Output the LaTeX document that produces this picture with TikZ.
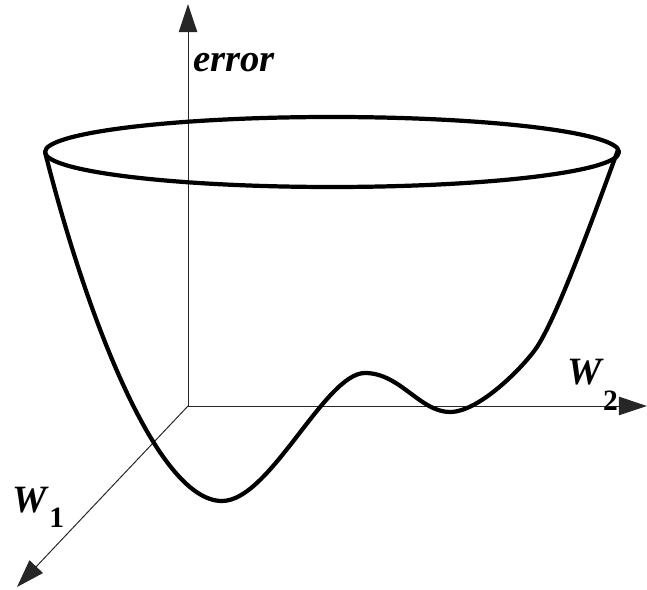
\documentclass[tikz,border=0pt]{standalone}
\usepackage{fontspec}
\setmainfont{Liberation Serif}
\usetikzlibrary{arrows.meta}

\begin{document}
\begin{tikzpicture}[
  x=0.025cm,y=-0.025cm,
  axis/.style={black!85,line width=0.7pt,-{Triangle[length=7mm,width=4.6mm]}},
  bowl/.style={line width=3pt,line join=round},
  lab/.style={font=\fontsize{27.5}{32}\selectfont\bfseries\itshape,inner sep=0pt},
]
\useasboundingbox (0,0) rectangle (647,590);
\coordinate (orig) at (188,406);
\coordinate (etip) at (188,4);
\coordinate (wtwotip) at (647,406);
\coordinate (wonetip) at (17,587);
% axes
\draw[axis] (orig)--(etip);
\draw[axis] (orig)--(wtwotip);
\draw[axis] (orig)--(wonetip);
% rim of the bowl
\draw[bowl] (332,152) ellipse [x radius=287,y radius=35];
% error surface: global min, local max, local min
\draw[bowl] (45,152) .. controls (90,330) and (160,501) .. (222,501)
  .. controls (270,501) and (325,373) .. (365,373)
  .. controls (400,373) and (420,412) .. (450,412)
  .. controls (480,412) and (525,365) .. (537,347)
  .. controls (560,312) and (603,190) .. (618,150);
% labels
\node[lab,anchor=base west] (err) at (193,72) {error};
\node[lab,anchor=base west] (wtwo) at (567,385)
  {W\hspace{1pt}\raisebox{-17.8pt}{\fontsize{21}{25}\selectfont\upshape 2}};
\node[lab,anchor=base west] (wone) at (12,513)
  {W\hspace{2pt}\raisebox{-10pt}{\fontsize{21}{25}\selectfont\upshape 1}};
\end{tikzpicture}
\end{document}
